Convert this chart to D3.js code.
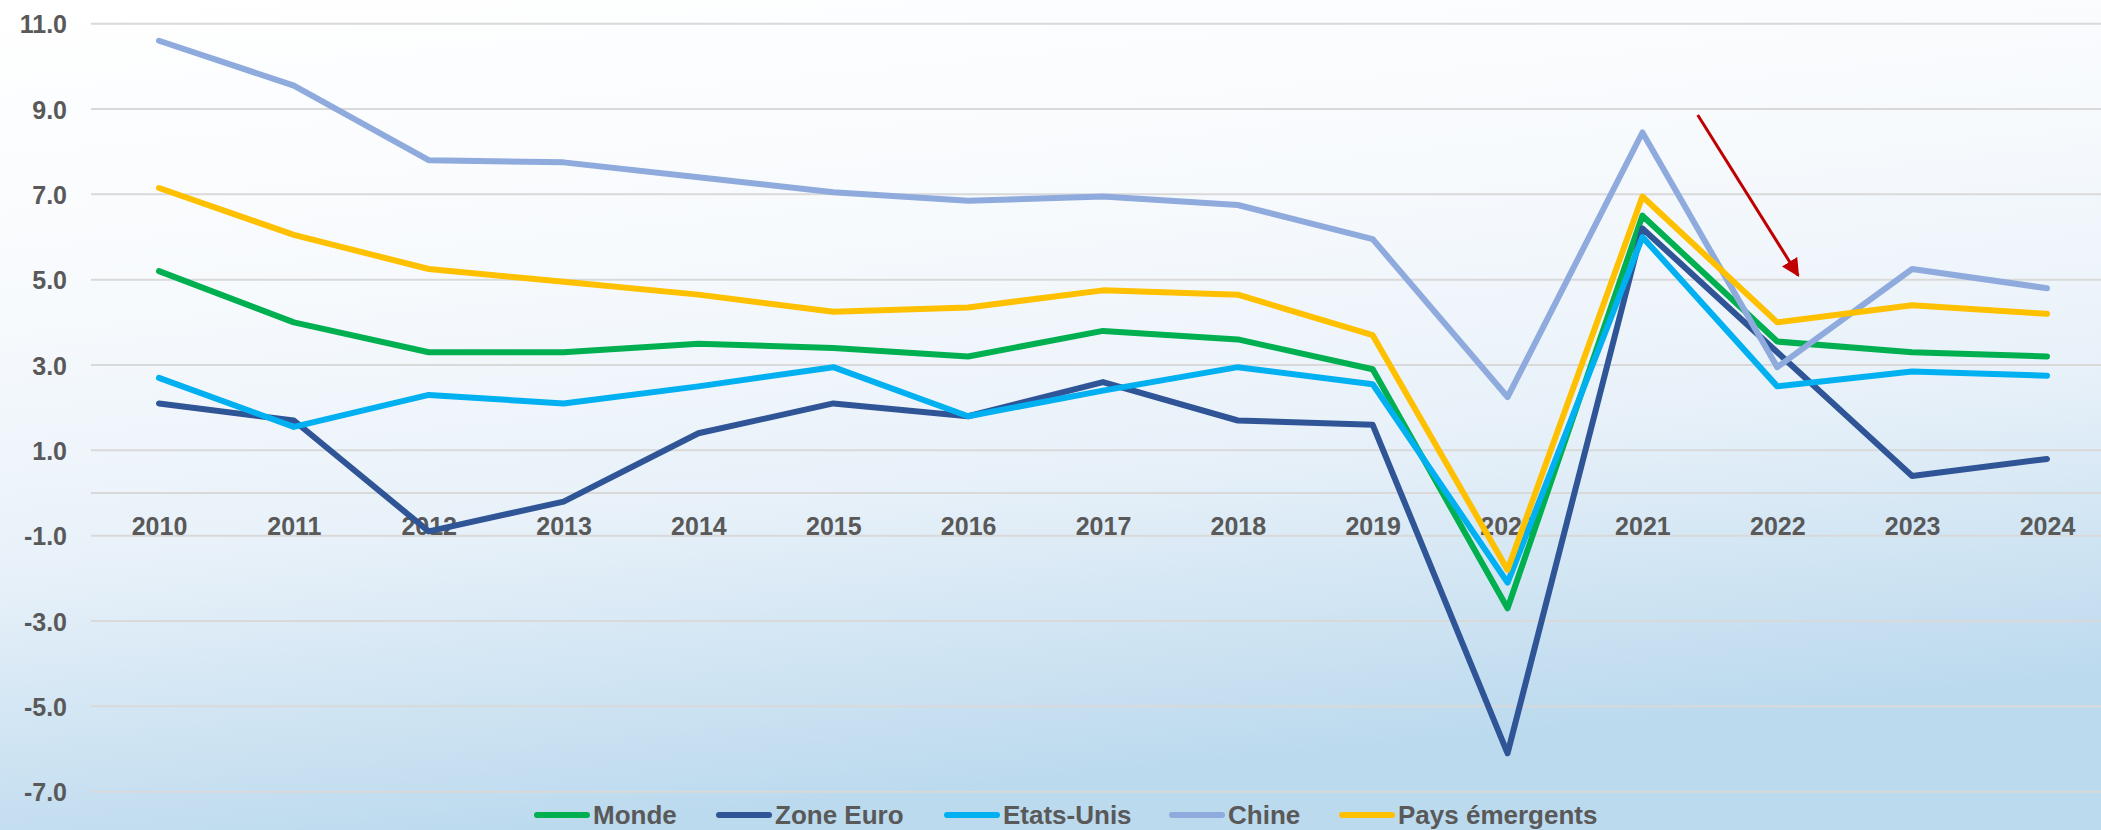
<!DOCTYPE html>
<html>
<head>
<meta charset="utf-8">
<script src="https://cdn.jsdelivr.net/npm/d3@7"></script>
<style>
  body { margin: 0; padding: 0; overflow: hidden; }
  svg text { font-family: "Liberation Sans", Arial, sans-serif; font-weight: bold; fill: #595959; }
</style>
</head>
<body>
<div class="chart"></div>
<script>
// data
const years = ["2010", "2011", "2012", "2013", "2014", "2015", "2016", "2017", "2018", "2019", "2020", "2021", "2022", "2023", "2024"];
const monde = [5.2, 4.0, 3.3, 3.3, 3.5, 3.4, 3.2, 3.8, 3.6, 2.9, -2.7, 6.5, 3.55, 3.3, 3.2];
const zoneEuro = [2.1, 1.7, -0.9, -0.2, 1.4, 2.1, 1.8, 2.6, 1.7, 1.6, -6.1, 6.2, 3.3, 0.4, 0.8];
const etatsUnis = [2.7, 1.55, 2.3, 2.1, 2.5, 2.95, 1.8, 2.4, 2.95, 2.55, -2.1, 6.0, 2.5, 2.85, 2.75];
const chine = [10.6, 9.55, 7.8, 7.75, 7.4, 7.05, 6.85, 6.95, 6.75, 5.95, 2.25, 8.45, 2.95, 5.25, 4.8];
const paysEmergents = [7.15, 6.05, 5.25, 4.95, 4.65, 4.25, 4.35, 4.75, 4.65, 3.7, -1.8, 6.95, 4.0, 4.4, 4.2];
const seriesNames = ["Monde", "Zone Euro", "Etats-Unis", "Chine", "Pays émergents"];
const seriesColors = ["#00B050", "#2F5597", "#00B0F0", "#8FAADC", "#FFC000"];
const yTicks = [11, 9, 7, 5, 3, 1, -1, -3, -5, -7];

const width = 2101, height = 830;
const margin = { left: 91, top: 23.7 };

const allSeries = [monde, zoneEuro, etatsUnis, chine, paysEmergents].map((vals, i) => ({
  name: seriesNames[i],
  color: seriesColors[i],
  values: vals.map((v, j) => ({ year: years[j], value: v }))
}));

const svg = d3.select(".chart")
  .append("svg")
  .attr("width", width)
  .attr("height", height);

// background gradient
const defs = svg.append("defs");
const grad = defs.append("linearGradient")
  .attr("id", "bg")
  .attr("x1", "0").attr("y1", "0")
  .attr("x2", "0.25").attr("y2", "1");
grad.append("stop").attr("offset", "0").attr("stop-color", "#ffffff");
grad.append("stop").attr("offset", "0.35").attr("stop-color", "#f7fafd");
grad.append("stop").attr("offset", "0.65").attr("stop-color", "#e8f1f9");
grad.append("stop").attr("offset", "1").attr("stop-color", "#bcdaee");

svg.append("rect")
  .attr("width", width)
  .attr("height", height)
  .attr("fill", "url(#bg)");

// scales
const xScale = d3.scalePoint()
  .domain(years)
  .range([159, 2047]);

const yScale = d3.scaleLinear()
  .domain([11, -7])
  .range([margin.top, 791.7]);

// gridlines (every 2 units plus the zero line)
svg.append("g")
  .selectAll("line")
  .data(yTicks.concat([0]))
  .join("line")
  .attr("x1", margin.left)
  .attr("x2", width)
  .attr("y1", d => yScale(d))
  .attr("y2", d => yScale(d))
  .attr("stroke", "#d9d9d9")
  .attr("stroke-width", 2);

// y axis labels (plain hyphen for negatives, like the original)
const yAxis = d3.axisLeft(yScale)
  .tickValues(yTicks)
  .tickFormat(d => d.toFixed(1))
  .tickSize(0)
  .tickPadding(0);

const yAxisGroup = svg.append("g")
  .attr("transform", "translate(67, 0)")
  .call(yAxis);
yAxisGroup.select(".domain").remove();
yAxisGroup.selectAll("text")
  .attr("font-size", 25)
  .attr("dy", "0.36em")
  .attr("font-family", null);

// x axis labels, sitting on the zero line
const xAxis = d3.axisBottom(xScale).tickSize(0).tickPadding(0);
const xAxisGroup = svg.append("g")
  .attr("transform", `translate(0, ${yScale(0)})`)
  .call(xAxis);
xAxisGroup.select(".domain").remove();
xAxisGroup.selectAll("text")
  .attr("font-size", 25)
  .attr("y", 33)
  .attr("dy", "0.36em")
  .attr("font-family", null);

// lines
const line = d3.line()
  .x(d => xScale(d.year))
  .y(d => yScale(d.value));

svg.append("g")
  .selectAll("path")
  .data(allSeries)
  .join("path")
  .attr("d", d => line(d.values))
  .attr("fill", "none")
  .attr("stroke", d => d.color)
  .attr("stroke-width", 6)
  .attr("stroke-linejoin", "round")
  .attr("stroke-linecap", "round");

// red arrow annotation
const step = xScale.step();
defs.append("marker")
  .attr("id", "arrowhead")
  .attr("viewBox", "0 0 10 10")
  .attr("refX", 9)
  .attr("refY", 5)
  .attr("markerWidth", 6)
  .attr("markerHeight", 6)
  .attr("markerUnits", "strokeWidth")
  .attr("orient", "auto")
  .append("path")
  .attr("d", "M0,0 L10,5 L0,10 Z")
  .attr("fill", "#C00000");

svg.append("line")
  .attr("x1", xScale("2021") + step * 0.41)
  .attr("y1", yScale(8.86))
  .attr("x2", xScale("2022") + step * 0.155)
  .attr("y2", yScale(5.1))
  .attr("stroke", "#C00000")
  .attr("stroke-width", 3)
  .attr("marker-end", "url(#arrowhead)");

// legend
const legendX = [534, 716, 944, 1169, 1339];
const legend = svg.append("g")
  .selectAll("g")
  .data(allSeries)
  .join("g")
  .attr("transform", (d, i) => `translate(${legendX[i]}, 815)`);

legend.append("line")
  .attr("x1", 3)
  .attr("x2", 53)
  .attr("stroke", d => d.color)
  .attr("stroke-width", 6)
  .attr("stroke-linecap", "round");

legend.append("text")
  .attr("x", 59)
  .attr("dy", "0.36em")
  .attr("font-size", 26)
  .text(d => d.name);
</script>
</body>
</html>
